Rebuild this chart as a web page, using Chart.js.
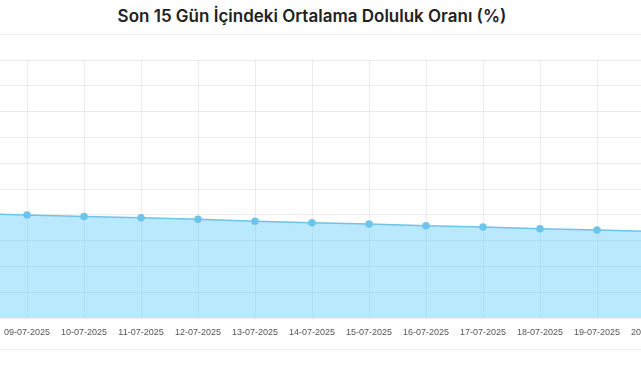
<!DOCTYPE html>
<html>
<head>
<meta charset="utf-8">
<script src="https://cdn.jsdelivr.net/npm/chart.js@4"></script>
<style>
  html, body { margin: 0; padding: 0; width: 641px; height: 380px; overflow: hidden; background: #fff; }
  #title {
    position: absolute; left: 112px; width: 400px; top: 4px; height: 24px;
    text-align: center; font-family: Inter, "Noto Sans", sans-serif; font-weight: 600;
    font-size: 17px; line-height: 24px; color: #222; letter-spacing: 0; white-space: nowrap;
  }
  #sep { position: absolute; left: 0; width: 641px; top: 34px; height: 0; border-top: 1px solid #f0f0f0; }
  #sep2 { position: absolute; left: 0; width: 641px; top: 349px; height: 0; border-top: 1px solid #f0f0f0; }
  #wrap { position: absolute; left: -200px; top: 40px; width: 900px; height: 320px; }
</style>
</head>
<body>
<div id="title">Son 15 Gün İçindeki Ortalama Doluluk Oranı (%)</div>
<div id="sep"></div>
<div id="sep2"></div>
<div id="wrap"><canvas id="c"></canvas></div>
<script>
const categories = ["06-07-2025","07-07-2025","08-07-2025","09-07-2025","10-07-2025","11-07-2025","12-07-2025","13-07-2025","14-07-2025","15-07-2025","16-07-2025","17-07-2025","18-07-2025","19-07-2025","20-07-2025"];
const occupancy = [41.7, 41.1, 40.5, 39.9, 39.3, 38.9, 38.3, 37.5, 36.9, 36.4, 35.8, 35.3, 34.6, 34.1, 33.5];
const yMin = 0, yMax = 100, yStep = 10;

new Chart(document.getElementById('c'), {
  type: 'line',
  data: {
    labels: categories,
    datasets: [{
      label: 'Ortalama Doluluk Oranı (%)',
      data: occupancy,
      borderColor: '#6ec3e6',
      backgroundColor: 'rgba(90,200,250,0.42)',
      pointBackgroundColor: '#6ec4ea',
      pointBorderColor: '#6ec4ea',
      pointRadius: 3,
      borderWidth: 1.5,
      fill: true,
      tension: 0
    }]
  },
  options: {
    responsive: true,
    maintainAspectRatio: false,
    animation: false,
    layout: { padding: { left: 16, right: 46, top: 20, bottom: 12 } },
    plugins: { legend: { display: false }, title: { display: false }, tooltip: { enabled: false } },
    scales: {
      x: {
        grid: { color: 'rgba(0,0,0,0.07)', drawTicks: false },
        border: { display: false },
        ticks: { autoSkip: false, maxRotation: 0, minRotation: 0, padding: 9, color: '#555',
                 font: { family: 'Liberation Sans, Arial, sans-serif', size: 9 } },
        afterFit(s) { s.height = 30; s.paddingLeft = 0; s.paddingRight = 0; }
      },
      y: {
        min: yMin, max: yMax,
        grid: { color: 'rgba(0,0,0,0.07)', drawTicks: false },
        border: { display: false },
        ticks: { stepSize: yStep, color: '#666', font: { size: 9 } },
        afterFit(s) { s.width = 40; }
      }
    }
  }
});
</script>
</body>
</html>
